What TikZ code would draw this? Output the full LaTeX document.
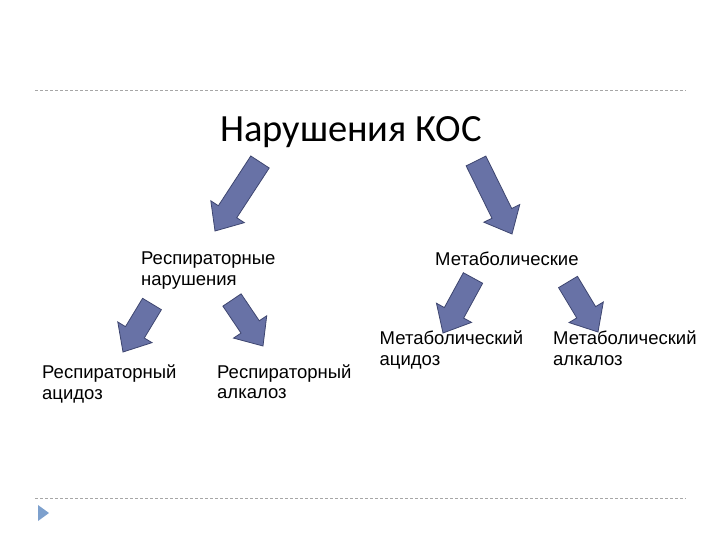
\documentclass[tikz,border=0pt]{standalone}
\usepackage{fontspec}
\setmainfont{Liberation Sans}
\newfontfamily\titlefont{Carlito}
\usetikzlibrary{calc}

\definecolor{arrowfill}{RGB}{104,114,166}
\definecolor{arrowline}{RGB}{62,70,112}
\definecolor{bulletblue}{RGB}{125,160,205}

\tikzset{
  txt/.style={anchor=base west, align=left, inner sep=0pt, font=\fontsize{18.5}{20.5}\selectfont},
  blockarr/.style={fill=arrowfill, draw=arrowline, line width=0.8pt, line join=miter},
  slideline/.style={gray!70, dash pattern=on 3pt off 2pt, line width=0.8pt}
}

% block arrow from tail to tip
\newcommand\blockarrow[2]{%
  \coordinate (neck) at ($(#2)!23pt!(#1)$);
  \draw[blockarr] ($(#1)!11pt!90:(#2)$) -- ($(neck)!11pt!-90:(#1)$) -- ($(neck)!20pt!-90:(#1)$) -- (#2)
    -- ($(neck)!20pt!90:(#1)$) -- ($(neck)!11pt!90:(#1)$) -- ($(#1)!11pt!-90:(#2)$) -- cycle;}

\begin{document}
\begin{tikzpicture}[x=1pt,y=-1pt]
\useasboundingbox (0,0) rectangle (720,540);
\draw[slideline] (35,90) -- (686,90);
\draw[slideline] (35,498) -- (686,498);
\fill[bulletblue] (38,505) -- (49,513) -- (38,521) -- cycle;

% base anchor = baseline of the last line
\node[anchor=base west, inner sep=0pt, font=\titlefont\fontsize{38.5}{46}\selectfont] (title) at (220,141.7) {Нарушения КОС};
\node[txt] (resp) at (141,285) {Респираторные\\нарушения};
\node[txt] (metab) at (435,265.5) {Метаболические};
\node[txt] (racid) at (42,399) {Респираторный\\ацидоз};
\node[txt] (ralk) at (217,398.5) {Респираторный\\алкалоз};
\node[txt] (macid) at (379.5,365) {Метаболический\\ацидоз};
\node[txt] (malk) at (553,365) {Метаболический\\алкалоз};

% arrows
\coordinate (t1) at (260,162); \coordinate (h1) at (215,231);
\coordinate (t2) at (476,161); \coordinate (h2) at (512,234);
\coordinate (t3) at (152,304); \coordinate (h3) at (123,352);
\coordinate (t4) at (232,300); \coordinate (h4) at (263,346);
\coordinate (t5) at (473,278); \coordinate (h5) at (443,333);
\coordinate (t6) at (568,282); \coordinate (h6) at (598,332);
\blockarrow{t1}{h1}
\blockarrow{t2}{h2}
\blockarrow{t3}{h3}
\blockarrow{t4}{h4}
\blockarrow{t5}{h5}
\blockarrow{t6}{h6}
\end{tikzpicture}
\end{document}
